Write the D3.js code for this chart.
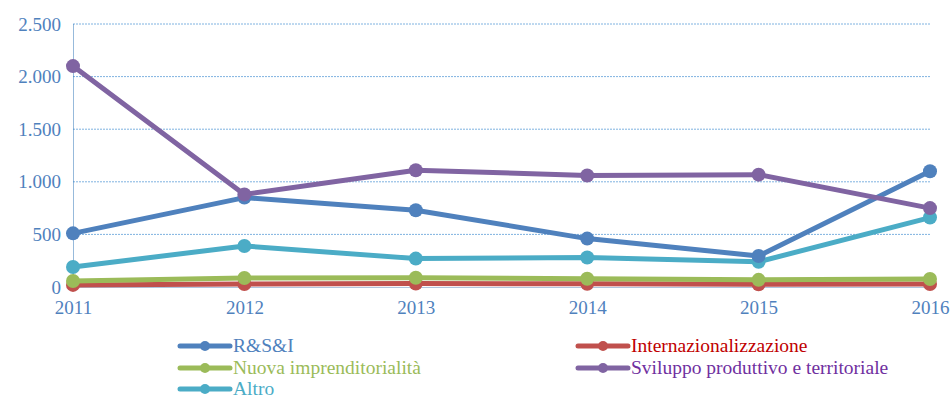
<!DOCTYPE html>
<html>
<head>
<meta charset="utf-8">
<script src="https://cdn.jsdelivr.net/npm/d3@7"></script>
<style>
  body { margin: 0; background: #fff; }
</style>
</head>
<body>
<div id="chart"></div>
<script>
var years = [2011, 2012, 2013, 2014, 2015, 2016];
var yTicks = [0, 500, 1000, 1500, 2000, 2500];

var rsi = [510, 850, 730, 460, 295, 1100];
var intern = [20, 28, 33, 30, 25, 28];
var nuova = [57, 85, 88, 78, 68, 76];
var sviluppo = [2100, 880, 1110, 1060, 1068, 750];
var altro = [190, 390, 270, 280, 240, 660];

var seriesNames = ['R&S&I', 'Internazionalizzazione', 'Nuova imprenditorialità',
  'Sviluppo produttivo e territoriale', 'Altro'];
var seriesValues = [rsi, intern, nuova, sviluppo, altro];
var lineColors = ['#4F81BD', '#C0504D', '#9BBB59', '#8064A2', '#4BACC6'];
var textColors = ['#4F81BD', '#C00000', '#9BBB59', '#7030A0', '#4BACC6'];

var font = '"Liberation Serif", "DejaVu Serif", serif';

var margin = {top: 24, right: 21, bottom: 113, left: 73};
var width = 951 - margin.left - margin.right;
var height = 400 - margin.top - margin.bottom;

var x = d3.scalePoint().domain(years).range([0, width]);
var y = d3.scaleLinear().domain([0, 2500]).range([height, 0]);

var line = d3.line()
    .x(function(d, i) { return x(years[i]); })
    .y(function(d) { return y(d); });

var root = d3.select('#chart').append('svg')
    .attr('width', 951)
    .attr('height', 400)
    .style('font-family', font);

var svg = root.append('g')
    .attr('transform', 'translate(' + margin.left + ',' + margin.top + ')');

// Gridlines
svg.append('g')
  .selectAll('line')
  .data(yTicks.filter(function(t) { return t > 0; }))
  .enter().append('line')
  .attr('x1', 0)
  .attr('x2', width)
  .attr('y1', function(d) { return y(d); })
  .attr('y2', function(d) { return y(d); })
  .attr('stroke', '#7FB2E0')
  .attr('stroke-width', 1)
  .attr('stroke-dasharray', '2,1');

// Y axis
var yAxis = d3.axisLeft(y)
    .tickValues(yTicks)
    .tickSize(0)
    .tickPadding(12)
    .tickFormat(function(d) { return d3.format(',')(d).replace(/,/g, '.'); });

svg.append('g')
  .attr('class', 'y-axis')
  .call(yAxis)
  .attr('font-family', font)
  .call(function(g) {
    g.select('.domain')
      .attr('stroke', '#2E75B6')
      .attr('stroke-dasharray', '1,1');
    g.selectAll('text')
      .attr('fill', '#4F81BD')
      .style('font-size', '19px');
  });

// X axis
var xAxis = d3.axisBottom(x).tickSize(0).tickPadding(14);

svg.append('g')
  .attr('class', 'x-axis')
  .attr('transform', 'translate(0,' + height + ')')
  .call(xAxis)
  .attr('font-family', font)
  .call(function(g) {
    g.select('.domain').attr('stroke', '#B0C4DE');
    g.selectAll('text')
      .attr('fill', '#4F81BD')
      .style('font-size', '19px');
  });

// Series
var drawOrder = [1, 2, 4, 0, 3];
drawOrder.forEach(function(k) {
  var g = svg.append('g').attr('class', 'series');
  g.append('path')
    .datum(seriesValues[k])
    .attr('fill', 'none')
    .attr('stroke', lineColors[k])
    .attr('stroke-width', 5)
    .attr('stroke-linejoin', 'round')
    .attr('d', line);
  g.selectAll('circle')
    .data(seriesValues[k])
    .enter().append('circle')
    .attr('cx', function(d, i) { return x(years[i]); })
    .attr('cy', function(d) { return y(d); })
    .attr('r', 7)
    .attr('fill', lineColors[k]);
});

// Legend
var legendPos = [[180, 346], [578, 346], [180, 368], [578, 368], [180, 389]];
var legend = root.append('g');
seriesNames.forEach(function(name, k) {
  var p = legendPos[k];
  var item = legend.append('g').attr('transform', 'translate(' + p[0] + ',' + p[1] + ')');
  item.append('line')
    .attr('x1', 0).attr('x2', 50)
    .attr('stroke', lineColors[k])
    .attr('stroke-width', 5)
    .attr('stroke-linecap', 'round');
  item.append('circle')
    .attr('cx', 25).attr('r', 5)
    .attr('fill', lineColors[k]);
  item.append('text')
    .attr('x', 53)
    .attr('dy', '0.33em')
    .attr('fill', textColors[k])
    .style('font-size', '19.5px')
    .text(name);
});
</script>
</body>
</html>
